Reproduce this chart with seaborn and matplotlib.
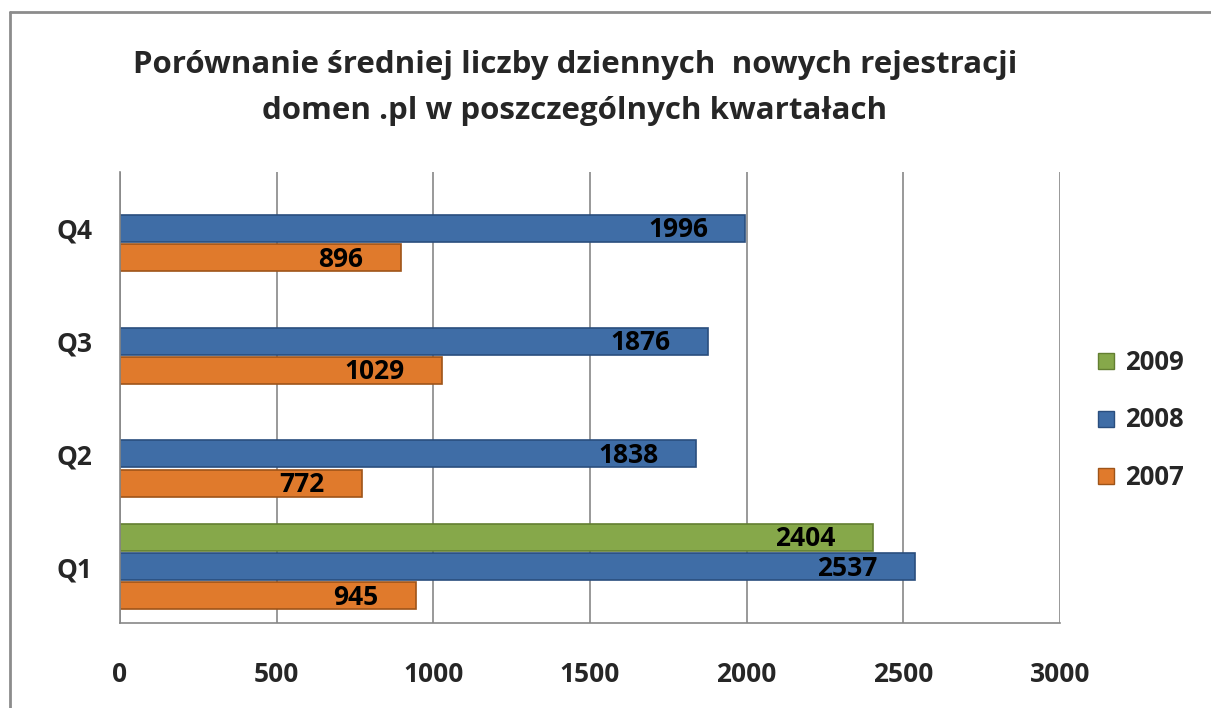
import pandas as pd
import numpy as np
import matplotlib
matplotlib.use('Agg')
import matplotlib.pyplot as plt
from matplotlib.lines import Line2D
import seaborn as sns

# data
quarters = ['Q1', 'Q2', 'Q3', 'Q4']
vals_2007 = [945, 772, 1029, 896]
vals_2008 = [2537, 1838, 1876, 1996]
vals_2009 = [2404]  # only Q1 available

rows = []
for q, v in zip(quarters, vals_2007):
    rows.append({'Kwartal': q, 'Rok': '2007', 'Wartosc': v})
for q, v in zip(quarters, vals_2008):
    rows.append({'Kwartal': q, 'Rok': '2008', 'Wartosc': v})
for q, v in zip(quarters[:1], vals_2009):
    rows.append({'Kwartal': q, 'Rok': '2009', 'Wartosc': v})
data = pd.DataFrame(rows)

sns.set_style('white')
plt.rcParams['font.family'] = ['Open Sans', 'DejaVu Sans']

colors = {'2009': '#86A84A', '2008': '#3F6DA6', '2007': '#E07A2C'}
edges = {'2009': '#637F31', '2008': '#2A4E7E', '2007': '#9E5419'}

W, H = 1211, 708
fig = plt.figure(figsize=(W / 100, H / 100), dpi=100)
ax = fig.add_axes([120 / W, 1 - 623 / H, (1060 - 120) / W, (623 - 172) / H])

sns.barplot(data=data, x='Wartosc', y='Kwartal', hue='Rok',
            order=['Q4', 'Q3', 'Q2', 'Q1'], hue_order=['2009', '2008', '2007'],
            palette=colors, saturation=1, orient='h', width=0.78, gap=0.08,
            ax=ax, legend=False)

# edge colors and inside-end labels
for cont, year in zip(ax.containers, ['2009', '2008', '2007']):
    for p in cont.patches:
        w = p.get_width()
        if np.isnan(w) or w == 0:
            continue
        p.set_edgecolor(edges[year])
        p.set_linewidth(1.2)
        ax.annotate(f'{int(round(w))}', (w, p.get_y() + p.get_height() / 2),
                    xytext=(-27, -1), textcoords='offset points',
                    ha='right', va='center', fontsize=19, fontweight='bold',
                    color='black')

ax.set_xlim(0, 3000)
ax.set_ylim(3.5, -0.5)
ax.set_xticks(np.arange(0, 3001, 500))
ax.xaxis.grid(True, color='#888888', linewidth=1.2)
ax.set_axisbelow(True)
ax.set_xlabel('')
ax.set_ylabel('')

for s in ['top', 'right']:
    ax.spines[s].set_visible(False)
for s in ['left', 'bottom']:
    ax.spines[s].set_color('#888888')
    ax.spines[s].set_linewidth(1.2)

ax.set_yticks([0, 1, 2, 3])
ax.set_yticklabels(['Q4', 'Q3', 'Q2', 'Q1'])
ax.set_yticks([-0.5, 0.5, 1.5, 2.5, 3.5], minor=True)
ax.tick_params(axis='y', which='major', length=0, pad=20, labelsize=19)
ax.tick_params(axis='y', which='minor', length=6, color='#888888', width=1.2, direction='out')
ax.tick_params(axis='x', length=6, color='#888888', width=1.2, direction='out',
               pad=21, labelsize=19)
for lab in ax.get_xticklabels() + ax.get_yticklabels():
    lab.set_fontweight('bold')

# legend
handles = [Line2D([0], [0], marker='s', linestyle='', markersize=12,
                  markerfacecolor=colors[y], markeredgecolor=edges[y], label=y)
           for y in ['2009', '2008', '2007']]
fig.legend(handles=handles, loc='center left', bbox_to_anchor=(1093 / W, 1 - 420 / H),
           frameon=False, prop={'weight': 'bold', 'size': 18.5},
           borderpad=0, borderaxespad=0, handlelength=1.0,
           handletextpad=0.25, labelspacing=1.2)

fig.text(575 / W, 1 - 88 / H,
         'Porównanie średniej liczby dziennych  nowych rejestracji\ndomen .pl w poszczególnych kwartałach',
         ha='center', va='center', fontsize=22.5, fontweight='bold', linespacing=1.72)

# outer frame
fig.add_artist(Line2D([10 / W, 1.0], [1 - 12 / H, 1 - 12 / H], color='#8c8c8c', linewidth=2))
fig.add_artist(Line2D([10 / W, 10 / W], [0, 1 - 12 / H], color='#8c8c8c', linewidth=2))

fig.savefig('out.png', dpi=100)
